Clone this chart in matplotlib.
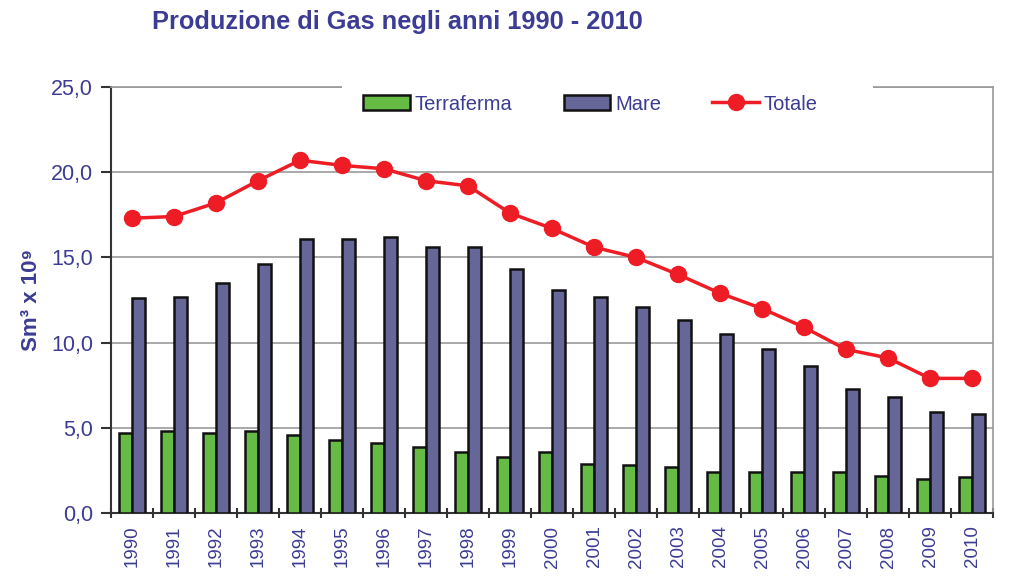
import numpy as np
import matplotlib.pyplot as plt
from matplotlib.patches import Rectangle

plt.rcParams['font.family'] = ['Liberation Sans', 'DejaVu Sans']

years = [str(y) for y in range(1990, 2011)]
terraferma = [4.7, 4.8, 4.7, 4.8, 4.6, 4.3, 4.1, 3.9, 3.6, 3.3, 3.6,
              2.9, 2.8, 2.7, 2.4, 2.4, 2.4, 2.4, 2.2, 2.0, 2.1]
mare = [12.6, 12.7, 13.5, 14.6, 16.1, 16.1, 16.2, 15.6, 15.6, 14.3, 13.1,
        12.7, 12.1, 11.3, 10.5, 9.6, 8.6, 7.3, 6.8, 5.9, 5.8]
totale = [17.3, 17.4, 18.2, 19.5, 20.7, 20.4, 20.2, 19.5, 19.2, 17.6, 16.7,
          15.6, 15.0, 14.0, 12.9, 12.0, 10.9, 9.6, 9.1, 7.9, 7.9]

text_col = '#3c3c94'
green = '#66bb44'
blue = '#666699'
red = '#ee1c24'

fig = plt.figure(figsize=(10.24, 5.83), dpi=100)
ax = fig.add_axes([111/1024, 1 - 513/583, (993-111)/1024, (513-87)/583])

x = np.arange(len(years))
w = 0.31
b1 = ax.bar(x - w/2, terraferma, w, color=green, edgecolor='#111111', linewidth=1.8,
            label='Terraferma', zorder=3)
b2 = ax.bar(x + w/2, mare, w, color=blue, edgecolor='#111111', linewidth=1.8,
            label='Mare', zorder=3)
l1, = ax.plot(x, totale, color=red, linewidth=2.5, marker='o', markersize=11.5,
              label='Totale', zorder=4)

ax.set_xlim(-0.5, len(years) - 0.5)
ax.set_ylim(0, 25)
ax.set_yticks(np.arange(0, 26, 5))
ax.set_yticklabels([f'{v:.1f}'.replace('.', ',') for v in np.arange(0, 26, 5)],
                   color=text_col, fontsize=15.5)
ax.yaxis.grid(True, color='#999999', linewidth=1.2, zorder=0)
ax.set_axisbelow(True)

ax.set_xticks(x)
ax.set_xticklabels(years, rotation=90, color=text_col, fontsize=13.5)
ax.tick_params(axis='x', which='major', length=0, pad=9)
ax.set_xticks(np.arange(-0.5, len(years), 1), minor=True)
ax.tick_params(axis='x', which='minor', length=7, width=1.5, color='#333333',
               direction='inout')
ax.tick_params(axis='y', length=7, width=1.5, color='#333333', direction='out', pad=6)

for s in ['left', 'bottom']:
    ax.spines[s].set_color('#333333')
    ax.spines[s].set_linewidth(1.5)
for s in ['right', 'top']:
    ax.spines[s].set_color('#999999')
    ax.spines[s].set_linewidth(1.2)

# white box of the legend hides part of the top border
ax.add_patch(Rectangle(((342-111)/882, 0.97), (873-342)/882, 0.06,
                       transform=ax.transAxes, facecolor='white',
                       edgecolor='none', clip_on=False, zorder=4.5))

ax.set_ylabel('Sm³ x 10⁹', color=text_col, fontsize=16, fontweight='bold',
              labelpad=6)

leg = ax.legend(handles=[b1, b2, l1], loc='center',
                bbox_to_anchor=(0.5437, 1 - 17/426), ncol=3,
                frameon=False, fontsize=14.5, handlelength=2.3, handleheight=0.7,
                columnspacing=2.55, handletextpad=0.25, borderpad=0.5)
leg.set_zorder(5)
for t in leg.get_texts():
    t.set_color(text_col)

fig.text(152/1024, 1 - 22/583, 'Produzione di Gas negli anni 1990 - 2010',
         color=text_col, fontsize=18.3, fontweight='bold', va='center', ha='left')

fig.savefig('out.png', dpi=100)
